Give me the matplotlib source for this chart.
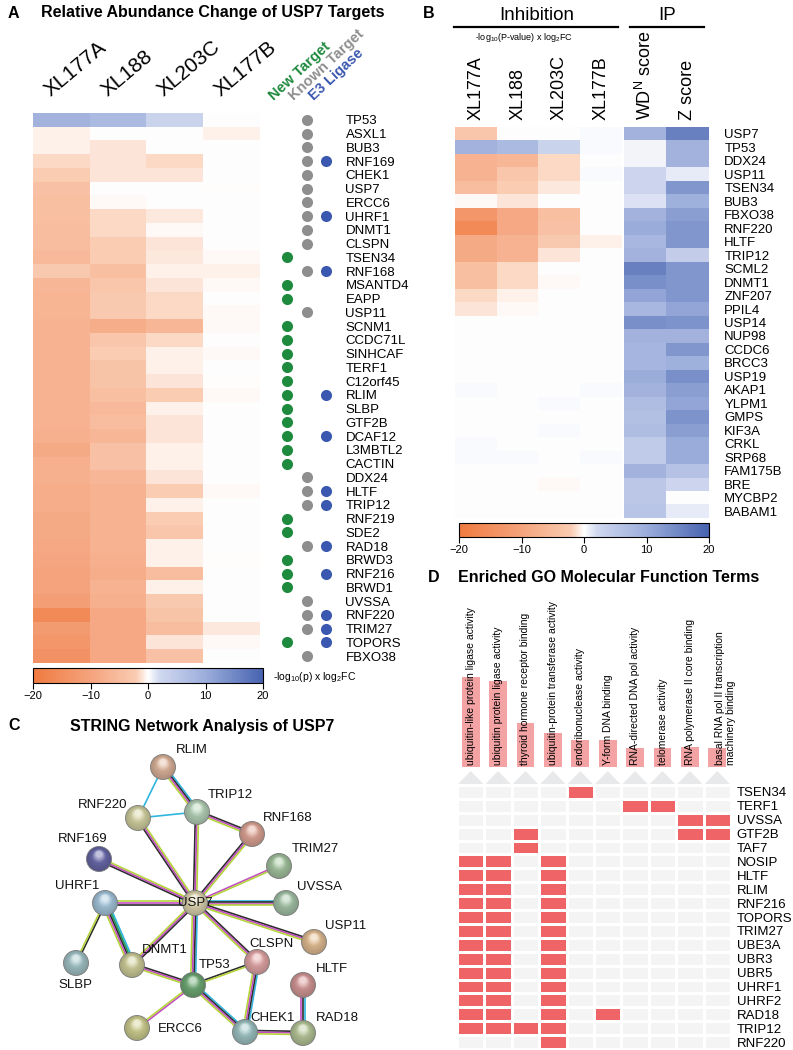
import numpy as np
import matplotlib
matplotlib.use('Agg')
import matplotlib.pyplot as plt
from matplotlib.colors import LinearSegmentedColormap, ListedColormap, Normalize, to_rgb
from matplotlib.patches import Circle, Polygon
from matplotlib.lines import Line2D
import matplotlib.cm as cm

plt.rcParams['font.family'] = ['Liberation Sans', 'DejaVu Sans']
plt.rcParams['mathtext.fontset'] = 'custom'
plt.rcParams['mathtext.rm'] = 'Liberation Sans'
plt.rcParams['mathtext.it'] = 'Liberation Sans:italic'
plt.rcParams['mathtext.bf'] = 'Liberation Sans:bold'

# ---------------- DATA ----------------
# Panel A
a_cols = ['XL177A', 'XL188', 'XL203C', 'XL177B']
a_genes = ['TP53', 'ASXL1', 'BUB3', 'RNF169', 'CHEK1', 'USP7', 'ERCC6', 'UHRF1', 'DNMT1', 'CLSPN',
           'TSEN34', 'RNF168', 'MSANTD4', 'EAPP', 'USP11', 'SCNM1', 'CCDC71L', 'SINHCAF', 'TERF1', 'C12orf45',
           'RLIM', 'SLBP', 'GTF2B', 'DCAF12', 'L3MBTL2', 'CACTIN', 'DDX24', 'HLTF', 'TRIP12', 'RNF219',
           'SDE2', 'RAD18', 'BRWD3', 'RNF216', 'BRWD1', 'UVSSA', 'RNF220', 'TRIM27', 'TOPORS', 'FBXO38']
a_xl177a = [9, -0.5, -0.5, -1.5, -2, -4, -4.5, -4.5, -5, -5,
            -5.5, -2.5, -6, -6.5, -6.5, -7, -7, -7, -7, -7,
            -7, -7, -7, -7.5, -8.5, -7.5, -7.5, -8, -8, -8.5,
            -8.5, -9, -9.5, -10, -10, -11, -16, -12, -13, -14]
a_xl188 = [7.5, 0, -1, -1, -1, 0, -0.3, -1.5, -1.5, -2,
           -2, -4.5, -3, -2.5, -2.5, -8, -3, -2, -3.5, -3.5,
           -4.5, -5.5, -5, -6, -4, -4, -6, -7, -7, -7,
           -7, -7, -7.5, -8, -7, -7.5, -9, -9, -9, -9]
a_xl203c = [3, 0, 0, -1.5, -1, 0, 0, -0.8, -0.3, -1,
            -0.8, -0.5, -1, -1.5, -1.5, -6, -1.5, -0.5, -0.5, -1,
            -2, -0.5, -1, -1, -0.5, -0.5, -1, -2, -0.5, -2,
            -3, -0.5, -0.5, -5, -0.5, -2.5, -3.5, -5, -1, -4]
a_xl177b = [0, -0.5, 0, 0, 0, -0.1, 0, 0, 0, 0,
            -0.3, -0.5, -0.2, 0, -0.2, -0.3, 0, -0.2, 0, -0.1,
            -0.2, 0, 0, 0, 0, 0, 0, -0.3, 0, 0,
            0, 0, -0.1, 0, 0, 0, 0, -0.8, -0.2, 0]
a_new_target = ['TSEN34', 'MSANTD4', 'EAPP', 'SCNM1', 'CCDC71L', 'SINHCAF', 'TERF1', 'C12orf45', 'RLIM',
                'SLBP', 'GTF2B', 'DCAF12', 'L3MBTL2', 'CACTIN', 'RNF219', 'SDE2', 'BRWD3', 'RNF216',
                'BRWD1', 'TOPORS']
a_known_target = ['TP53', 'ASXL1', 'BUB3', 'RNF169', 'CHEK1', 'USP7', 'ERCC6', 'UHRF1', 'DNMT1', 'CLSPN',
                  'RNF168', 'USP11', 'DDX24', 'HLTF', 'TRIP12', 'RAD18', 'UVSSA', 'RNF220', 'TRIM27', 'FBXO38']
a_e3_ligase = ['RNF169', 'UHRF1', 'RNF168', 'RLIM', 'DCAF12', 'HLTF', 'TRIP12', 'RAD18', 'RNF216',
               'RNF220', 'TRIM27', 'TOPORS']
a_legend = ['New Target', 'Known Target', 'E3 Ligase']

# Panel B
b_inh_cols = ['XL177A', 'XL188', 'XL203C', 'XL177B']
b_ip_cols = ['WD$^{\\mathrm{N}}$ score', 'Z score']
b_genes = ['USP7', 'TP53', 'DDX24', 'USP11', 'TSEN34', 'BUB3', 'FBXO38', 'RNF220', 'HLTF', 'TRIP12',
           'SCML2', 'DNMT1', 'ZNF207', 'PPIL4', 'USP14', 'NUP98', 'CCDC6', 'BRCC3', 'USP19', 'AKAP1',
           'YLPM1', 'GMPS', 'KIF3A', 'CRKL', 'SRP68', 'FAM175B', 'BRE', 'MYCBP2', 'BABAM1']
b_xl177a = [-3, 9, -7, -7, -5, -0.3, -13, -16, -8.5, -8.5, -4.5, -4.5, -1.5, -1, 0,
            0, 0, 0, 0, 0.3, 0, 0, 0, 0.3, 0.3, 0, 0, 0, 0]
b_xl188 = [0, 7.5, -6, -3, -2, -1, -9, -9, -7, -7, -1.5, -1.5, -0.5, -0.3, 0,
           0, 0, 0, 0, 0, 0, 0, 0, 0, 0.2, 0, 0, 0, 0]
b_xl203c = [0, 3, -1.5, -1.5, -0.8, 0, -4.5, -4, -2.5, -1, 0, -0.3, 0, 0, 0,
            0, 0, 0, 0, 0, 0.3, 0, 0.3, 0, 0, 0, -0.2, 0, 0]
b_xl177b = [0.2, 0.3, 0, 0.2, 0, 0, 0, 0, -0.5, 0, 0, 0, 0, 0, 0,
            0, 0, 0, 0, 0.2, 0, 0, 0, 0, 0.2, 0, 0, 0, 0]
b_wdn = [9, 0.5, 0.5, 2.5, 2.5, 1.5, 9, 10, 8, 9, 16, 14, 11, 8, 14,
         9, 8.5, 8.5, 10, 9, 7, 6.5, 7, 4.5, 4.5, 9, 5, 5, 5.5]
b_z = [16, 9, 9, 1, 13, 9.5, 12, 13, 13, 4, 13, 13, 13, 11, 13.5,
       9, 13, 9.5, 14, 12, 11, 13.5, 12, 10, 10, 6, 2.5, 0, 1]

# Panel C (STRING network: node layout positions and evidence channels)
c_nodes = ['USP7', 'RLIM', 'TRIP12', 'RNF220', 'RNF168', 'RNF169', 'TRIM27', 'UHRF1', 'UVSSA', 'USP11',
           'DNMT1', 'CLSPN', 'SLBP', 'TP53', 'HLTF', 'ERCC6', 'CHEK1', 'RAD18']
c_layout_x = [195, 163, 197, 138, 252, 99, 279, 105, 286, 314, 132, 257, 76, 193, 303, 137, 245, 303]
c_layout_y = [903, 767, 812, 818, 834, 859, 866, 903, 903, 942, 965, 962, 963, 985, 985, 1028, 1032, 1033]
c_node_colors = ['#E2D9B4', '#E3B9A0', '#B9D7BC', '#D9D7A6', '#E3A99A', '#6B6BAE', '#A9C9A4', '#A9CBE2',
                 '#A9C9AC', '#E8C297', '#D3D39E', '#E8AAAA', '#A6C9CC', '#72AD78', '#DB9C9C', '#D3D394',
                 '#A3C9C9', '#BACB9C']
c_edges = [('USP7', 'RNF220', ['coexp', 'exp', 'text']),
           ('USP7', 'TRIP12', ['coexp', 'exp', 'text']),
           ('USP7', 'RNF168', ['coexp', 'exp', 'text']),
           ('USP7', 'RNF169', ['coexp', 'exp', 'text']),
           ('USP7', 'TRIM27', ['exp', 'text']),
           ('USP7', 'UHRF1', ['coexp', 'exp', 'text']),
           ('USP7', 'UVSSA', ['db', 'coexp', 'exp', 'text']),
           ('USP7', 'USP11', ['coexp', 'exp', 'text']),
           ('USP7', 'DNMT1', ['coexp', 'exp', 'text']),
           ('USP7', 'TP53', ['db', 'coexp', 'exp', 'text']),
           ('USP7', 'CLSPN', ['coexp', 'exp', 'text']),
           ('RLIM', 'TRIP12', ['db', 'coexp', 'exp', 'text']),
           ('RLIM', 'RNF220', ['db']),
           ('RNF220', 'TRIP12', ['db']),
           ('TRIP12', 'RNF168', ['coexp', 'exp', 'text']),
           ('UHRF1', 'SLBP', ['coexp', 'text']),
           ('UHRF1', 'DNMT1', ['db', 'neigh', 'coexp', 'exp', 'text']),
           ('DNMT1', 'TP53', ['coexp', 'exp', 'text']),
           ('TP53', 'CLSPN', ['coexp', 'text']),
           ('TP53', 'ERCC6', ['exp', 'text']),
           ('TP53', 'CHEK1', ['db', 'coexp', 'exp', 'text']),
           ('CLSPN', 'CHEK1', ['db', 'coexp', 'exp', 'text']),
           ('CHEK1', 'RAD18', ['coexp', 'exp', 'text']),
           ('HLTF', 'RAD18', ['db', 'coexp', 'exp'])]
c_channel_colors = {'db': '#2FB5DE', 'exp': '#C24DC4', 'text': '#B5D43C', 'coexp': '#2E2E2E',
                    'neigh': '#1E9E5A'}

# Panel D
d_terms = ['ubiquitin-like protein ligase activity', 'ubiquitin protein ligase activity',
           'thyroid hormone receptor binding', 'ubiquitin-protein transferase activity',
           'endoribonuclease activity', 'Y-form DNA binding', 'RNA-directed DNA pol activity',
           'telomerase activity', 'RNA polymerase II core binding',
           'basal RNA pol II transcription\nmachinery binding']
d_scores = [9.0, 8.6, 4.4, 3.4, 2.7, 2.7, 1.9, 1.9, 2.0, 1.9]
d_genes = ['TSEN34', 'TERF1', 'UVSSA', 'GTF2B', 'TAF7', 'NOSIP', 'HLTF', 'RLIM', 'RNF216', 'TOPORS',
           'TRIM27', 'UBE3A', 'UBR3', 'UBR5', 'UHRF1', 'UHRF2', 'RAD18', 'TRIP12', 'RNF220']
d_membership = [[4], [6, 7], [8, 9], [2, 8, 9], [2], [0, 1, 3], [0, 1, 3], [0, 1, 3], [0, 1, 3],
                [0, 1, 3], [0, 1, 3], [0, 1, 3], [0, 1, 3], [0, 1, 3], [0, 1, 3], [0, 1, 3],
                [0, 1, 3, 5], [0, 1, 2, 3], [3]]

# ---------------- FIGURE ----------------
W, H = 793, 1050
fig = plt.figure(figsize=(W / 100, H / 100), dpi=100)


def px_axes(x0, y0, x1, y1):
    return fig.add_axes([x0 / W, 1 - y1 / H, (x1 - x0) / W, (y1 - y0) / H])


def ftext(x, y, s, **kw):
    return fig.text(x / W, 1 - y / H, s, **kw)


def fline(x0, x1, y, **kw):
    fig.add_artist(Line2D([x0 / W, x1 / W], [1 - y / H, 1 - y / H], transform=fig.transFigure, **kw))


cmap = LinearSegmentedColormap.from_list('ow', [
    (0.0, (0.94, 0.48, 0.25)),
    (0.25, (0.96, 0.64, 0.49)),
    (0.45, (0.98, 0.80, 0.70)),
    (0.5, (1.0, 1.0, 1.0)),
    (0.55, (0.82, 0.85, 0.94)),
    (0.75, (0.61, 0.68, 0.86)),
    (1.0, (0.28, 0.39, 0.69))])
norm = Normalize(-20, 20)
TITLE_FS = 11.5

# ---- Panel A ----
ftext(8, 13, 'A', fontsize=11.5, fontweight='bold', va='center')
ftext(213, 13, 'Relative Abundance Change of USP7 Targets', fontsize=TITLE_FS, fontweight='bold',
      ha='center', va='center')

axA = px_axes(33, 113, 260, 663)
matA = np.column_stack([a_xl177a, a_xl188, a_xl203c, a_xl177b])
axA.imshow(matA, cmap=cmap, norm=norm, aspect='auto', interpolation='nearest')
axA.axis('off')
colw = (260 - 33) / 4
for i, c in enumerate(a_cols):
    ftext(33 + colw * (i + 0.5) - 11, 97, c, fontsize=15, rotation=40, rotation_mode='anchor',
          ha='left', va='baseline')

leg_colors = ['#1E8A3E', '#8E8E8E', '#3B58B0']
for i, (lab, col) in enumerate(zip(a_legend, leg_colors)):
    ftext(274 + 20 * i, 101, lab, fontsize=10.5, fontweight='bold', color=col, rotation=43,
          rotation_mode='anchor', ha='left', va='baseline')

axDots = px_axes(277.25, 113, 335.75, 663)
ys = np.arange(len(a_genes))
for k, (group, col) in enumerate(zip([a_new_target, a_known_target, a_e3_ligase], leg_colors)):
    yy = [a_genes.index(g) for g in group]
    axDots.scatter([k] * len(yy), yy, s=64, color=col, linewidths=0)
axDots.set_xlim(-0.5, 2.5)
axDots.set_ylim(len(a_genes) - 0.5, -0.5)
axDots.yaxis.tick_right()
axDots.set_yticks(ys)
axDots.set_yticklabels(a_genes, fontsize=9.5)
axDots.tick_params(axis='y', length=0, pad=7)
axDots.set_xticks([])
for s in axDots.spines.values():
    s.set_visible(False)
axDots.patch.set_alpha(0)

caxA = px_axes(33, 668, 263, 683)
sm = cm.ScalarMappable(norm=norm, cmap=cmap)
cbA = fig.colorbar(sm, cax=caxA, orientation='horizontal', ticks=[-20, -10, 0, 10, 20])
cbA.outline.set_linewidth(0.8)
caxA.tick_params(labelsize=8, length=4, width=0.8, pad=2)
ftext(273, 677, '-log$_{10}$(p) x log$_2$FC', fontsize=7.5, va='center', ha='left')

# ---- Panel B ----
ftext(423, 13, 'B', fontsize=11.5, fontweight='bold', va='center')
ftext(537, 15, 'Inhibition', fontsize=13.5, ha='center', va='center')
ftext(667, 15, 'IP', fontsize=13.5, ha='center', va='center')
fline(454, 618, 27, color='k', lw=1.6)
fline(630, 704, 27, color='k', lw=1.6)
ftext(524, 37, '-log$_{10}$(P-value) x log$_2$FC', fontsize=6.5, ha='center', va='center')

axB1 = px_axes(455, 127, 622, 518)
matB1 = np.column_stack([b_xl177a, b_xl188, b_xl203c, b_xl177b])
axB1.imshow(matB1, cmap=cmap, norm=norm, aspect='auto', interpolation='nearest')
axB1.axis('off')
axB2 = px_axes(624, 127, 709, 518)
matB2 = np.column_stack([b_wdn, b_z])
axB2.imshow(matB2, cmap=cmap, norm=norm, aspect='auto', interpolation='nearest')
axB2.set_xticks([])
axB2.yaxis.tick_right()
axB2.set_yticks(np.arange(len(b_genes)))
axB2.set_yticklabels(b_genes, fontsize=9.5)
axB2.tick_params(axis='y', length=0, pad=11)
for s in axB2.spines.values():
    s.set_visible(False)

bw = (622 - 455) / 4
for i, c in enumerate(b_inh_cols):
    ftext(455 + bw * (i + 0.5), 120, c, fontsize=13, rotation=90, ha='center', va='bottom')
bw2 = (709 - 624) / 2
for i, c in enumerate(b_ip_cols):
    ftext(624 + bw2 * (i + 0.5), 120, c, fontsize=13, rotation=90, ha='center', va='bottom')

caxB = px_axes(459, 523, 709, 537)
cbB = fig.colorbar(sm, cax=caxB, orientation='horizontal', ticks=[-20, -10, 0, 10, 20])
cbB.outline.set_linewidth(0.8)
caxB.tick_params(labelsize=8, length=4, width=0.8, pad=2)

# ---- Panel C ----
ftext(8, 726, 'C', fontsize=11.5, fontweight='bold', va='center')
ftext(202, 726, 'STRING Network Analysis of USP7', fontsize=TITLE_FS, fontweight='bold',
      ha='center', va='center')
axC = px_axes(0, 735, 400, 1050)
axC.set_xlim(0, 400)
axC.set_ylim(1050, 735)
axC.axis('off')
pos = {n: (x, y) for n, x, y in zip(c_nodes, c_layout_x, c_layout_y)}
for a, b, chans in c_edges:
    x0, y0 = pos[a]
    x1, y1 = pos[b]
    d = np.array([x1 - x0, y1 - y0], float)
    d /= np.hypot(*d)
    perp = np.array([-d[1], d[0]])
    n = len(chans)
    sp = 1.6
    for k, ch in enumerate(chans):
        off = (k - (n - 1) / 2) * sp
        axC.plot([x0 + perp[0] * off, x1 + perp[0] * off], [y0 + perp[1] * off, y1 + perp[1] * off],
                 color=c_channel_colors[ch], lw=1.2, solid_capstyle='butt', zorder=1)

R = 12.5
for n, x, y, col in zip(c_nodes, c_layout_x, c_layout_y, c_node_colors):
    base = np.array(to_rgb(col))
    axC.add_patch(Circle((x, y), R, facecolor=base * 0.78, edgecolor='#7a7a7a', lw=0.6, zorder=2))
    steps = 10
    for k in range(1, steps + 1):
        t = k / steps
        r = R * (1 - 0.75 * t)
        c = base * 0.78 * (1 - t) + base * t
        c = c + (1 - c) * max(0, t - 0.55) * 1.3
        c = np.clip(c, 0, 1)
        axC.add_patch(Circle((x, y - 0.38 * R * t), r, facecolor=c, edgecolor='none', zorder=2))

c_label_pos = {'RLIM': (192, 750), 'TRIP12': (230, 795), 'RNF220': (103, 805), 'RNF168': (288, 818),
               'RNF169': (83, 839), 'TRIM27': (315, 849), 'UHRF1': (77, 886), 'UVSSA': (320, 887),
               'USP7': (195, 903), 'USP11': (346, 926), 'CLSPN': (272, 944), 'DNMT1': (165, 950),
               'TP53': (215, 965), 'SLBP': (75, 985), 'HLTF': (332, 969), 'ERCC6': (180, 1029),
               'CHEK1': (273, 1018), 'RAD18': (337, 1018)}
for n in c_nodes:
    lx, ly = c_label_pos[n]
    axC.text(lx, ly, n, fontsize=9.5, ha='center', va='center', zorder=3, color='#111111')

# ---- Panel D ----
ftext(428, 578, 'D', fontsize=11.5, fontweight='bold', va='center')
ftext(609, 578, 'Enriched GO Molecular Function Terms', fontsize=TITLE_FS, fontweight='bold',
      ha='center', va='center')
axD1 = px_axes(457, 667, 731, 767)
ncol = len(d_terms)
axD1.bar(np.arange(ncol), d_scores, width=0.65, color='#F4A3A4')
axD1.set_xlim(-0.5, ncol - 0.5)
axD1.set_ylim(0, 10)
axD1.axis('off')
for i, t in enumerate(d_terms):
    if '\n' in t:
        axD1.text(i + 0.3, 0.2, t, fontsize=7.5, rotation=90, rotation_mode='anchor', ha='left',
                  va='center', linespacing=1.1, clip_on=False)
    else:
        axD1.text(i, 0.2, t, fontsize=7.5, rotation=90, rotation_mode='anchor', ha='left',
                  va='center', clip_on=False)

axD2 = px_axes(457, 771, 731, 784)
axD2.set_xlim(-0.5, ncol - 0.5)
axD2.set_ylim(0, 1)
axD2.axis('off')
for i in range(ncol):
    axD2.add_patch(Polygon([(i - 0.46, 0), (i + 0.46, 0), (i, 1)], closed=True, facecolor='#E7E9EB',
                           edgecolor='none'))

axD3 = px_axes(457, 785, 731, 1049)
matD = np.zeros((len(d_genes), ncol))
for r, cols in enumerate(d_membership):
    for c in cols:
        matD[r, c] = 1
axD3.pcolormesh(matD, cmap=ListedColormap(['#F4F4F4', '#EE6467']), vmin=0, vmax=1,
                edgecolors='white', linewidth=1.0)
axD3.set_xlim(0, ncol)
axD3.set_ylim(len(d_genes), 0)
axD3.set_xticks([])
axD3.yaxis.tick_right()
axD3.set_yticks(np.arange(len(d_genes)) + 0.5)
axD3.set_yticklabels(d_genes, fontsize=9.5)
axD3.tick_params(axis='y', length=0, pad=4)
for s in axD3.spines.values():
    s.set_visible(False)

fig.savefig('out.png', dpi=100)
